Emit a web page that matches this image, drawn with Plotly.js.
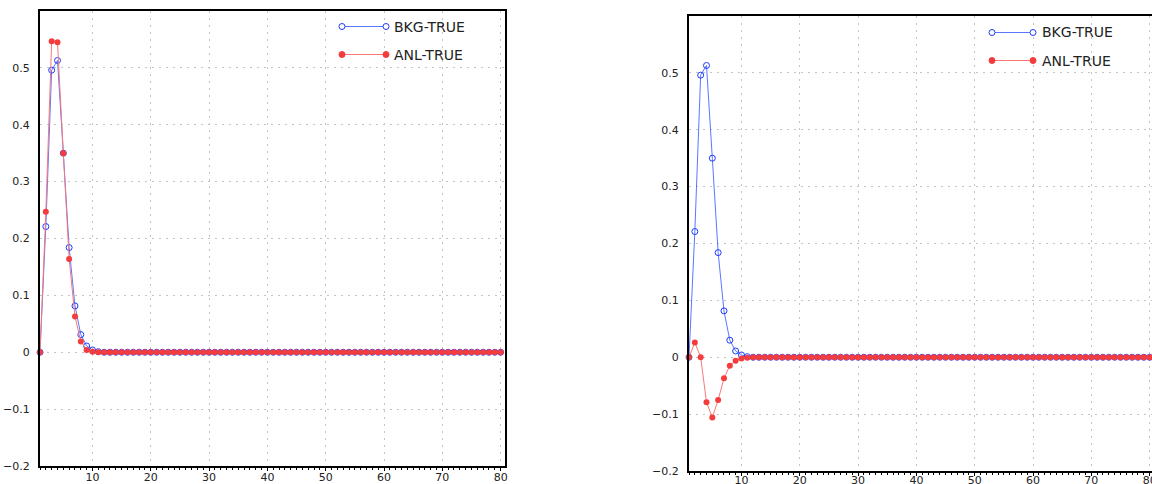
<!DOCTYPE html>
<html>
<head>
<meta charset="utf-8">
<script src="https://cdn.plot.ly/plotly-3.0.1.min.js"></script>
<style>
html,body{margin:0;padding:0;overflow:hidden;background:#fff;}
#chart{width:1160px;height:484px;}
</style>
</head>
<body>
<div id="chart"></div>
<script>
// x positions (step index)
const steps = [1,2,3,4,5,6,7,8,9,10,11,12,13,14,15,16,17,18,19,20,
  21,22,23,24,25,26,27,28,29,30,31,32,33,34,35,36,37,38,39,40,
  41,42,43,44,45,46,47,48,49,50,51,52,53,54,55,56,57,58,59,60,
  61,62,63,64,65,66,67,68,69,70,71,72,73,74,75,76,77,78,79,80];

// Left panel
const bkgTrueLeft = [0,0.221,0.496,0.513,0.350,0.184,0.0815,0.031,0.011,0.004,0.001,0,0,0,0,0,0,0,0,0,
  0,0,0,0,0,0,0,0,0,0,0,0,0,0,0,0,0,0,0,0,
  0,0,0,0,0,0,0,0,0,0,0,0,0,0,0,0,0,0,0,0,
  0,0,0,0,0,0,0,0,0,0,0,0,0,0,0,0,0,0,0,0];
const anlTrueLeft = [0,0.247,0.547,0.545,0.350,0.164,0.063,0.019,0.004,0.001,0,0,0,0,0,0,0,0,0,0,
  0,0,0,0,0,0,0,0,0,0,0,0,0,0,0,0,0,0,0,0,
  0,0,0,0,0,0,0,0,0,0,0,0,0,0,0,0,0,0,0,0,
  0,0,0,0,0,0,0,0,0,0,0,0,0,0,0,0,0,0,0,0];

// Right panel
const bkgTrueRight = [0,0.221,0.496,0.513,0.350,0.184,0.0815,0.030,0.011,0.004,0.001,0,0,0,0,0,0,0,0,0,
  0,0,0,0,0,0,0,0,0,0,0,0,0,0,0,0,0,0,0,0,
  0,0,0,0,0,0,0,0,0,0,0,0,0,0,0,0,0,0,0,0,
  0,0,0,0,0,0,0,0,0,0,0,0,0,0,0,0,0,0,0,0];
const anlTrueRight = [0,0.026,0,-0.079,-0.106,-0.075,-0.037,-0.015,-0.006,-0.002,-0.001,0,0,0,0,0,0,0,0,0,
  0,0,0,0,0,0,0,0,0,0,0,0,0,0,0,0,0,0,0,0,
  0,0,0,0,0,0,0,0,0,0,0,0,0,0,0,0,0,0,0,0,
  0,0,0,0,0,0,0,0,0,0,0,0,0,0,0,0,0,0,0,0];

const seriesNames = ['BKG-TRUE','ANL-TRUE'];
const xTicks = [10,20,30,40,50,60,70,80];
const yTicks = [-0.2,-0.1,0,0.1,0.2,0.3,0.4,0.5];

const W = 1160, H = 484;
const BLUE = '#1e3cff', BLUE_L = '#5a78ff';
const RED = '#f53c3c', RED_L = '#f87878';

function blueTrace(y, xa, ya){
  return {x: steps, y: y, xaxis: xa, yaxis: ya, type:'scatter', mode:'lines+markers',
    name: seriesNames[0], cliponaxis:false,
    line:{color:BLUE_L, width:1},
    marker:{symbol:'circle-open', size:6, color:BLUE, line:{width:1, color:BLUE}}};
}
function redTrace(y, xa, ya){
  return {x: steps, y: y, xaxis: xa, yaxis: ya, type:'scatter', mode:'lines+markers',
    name: seriesNames[1], cliponaxis:false,
    line:{color:RED_L, width:1},
    marker:{symbol:'circle', size:6, color:RED}};
}

const data = [
  blueTrace(bkgTrueLeft,'x','y'),
  redTrace(anlTrueLeft,'x','y'),
  blueTrace(bkgTrueRight,'x2','y2'),
  redTrace(anlTrueRight,'x2','y2')
];

const tickFont = {family:'DejaVu Sans, Arial, sans-serif', size:11, color:'#222'};
const GRID = '#c4c4c4';

function xAxis(domain, anchor, standoff){
  return {domain: domain, anchor: anchor, range:[1,80.75], tickvals:xTicks,
    ticks:'outside', ticklen:3, tickcolor:'#000', tickwidth:1, ticklabelstandoff:standoff,
    showgrid:true, gridcolor:GRID, griddash:'2px,5px', gridwidth:1,
    zeroline:false, showline:true, linecolor:'#000', linewidth:2, mirror:true,
    tickfont: tickFont,
    minor:{dtick:1, ticks:'outside', ticklen:2, tickcolor:'#000', showgrid:false}};
}
function yAxis(domain, anchor){
  return {domain: domain, anchor: anchor, range:[-0.2,0.6], tickvals:yTicks,
    ticks:'', ticklabelstandoff:6,
    showgrid:true, gridcolor:GRID, griddash:'2px,5px', gridwidth:1,
    zeroline:false, showline:true, linecolor:'#000', linewidth:2, mirror:true,
    tickfont: tickFont};
}

const shapes = [], annotations = [];
function legend(x0px, x1px, yBkg, yAnl, textX){
  const items = [[yBkg, BLUE, BLUE_L, true, seriesNames[0]], [yAnl, RED, RED_L, false, seriesNames[1]]];
  items.forEach(([ypx, c, cl, open, label]) => {
    const yp = 1 - ypx/H;
    shapes.push({type:'line', xref:'paper', yref:'paper', x0:x0px/W, x1:x1px/W, y0:yp, y1:yp,
      line:{color:cl, width:1}});
    [x0px, x1px].forEach(px => {
      shapes.push({type:'circle', xref:'paper', yref:'paper', xsizemode:'pixel', ysizemode:'pixel',
        xanchor:px/W, yanchor:yp, x0:-3, x1:3, y0:-3, y1:3,
        line:{color:c, width:1}, fillcolor: open ? '#ffffff' : c});
    });
    annotations.push({xref:'paper', yref:'paper', x:textX/W, y:yp, xanchor:'left', yanchor:'middle',
      text:label, showarrow:false, font:{family:'DejaVu Sans, Arial, sans-serif', size:14, color:'#222'}});
  });
}
legend(342, 386, 26.5, 54.5, 392);
legend(992, 1033, 32.5, 60.5, 1040);

const layout = {
  width: W, height: H,
  margin:{l:0, r:0, t:0, b:0},
  paper_bgcolor:'#fff', plot_bgcolor:'#fff',
  showlegend:false,
  xaxis: xAxis([40/W, 505/W], 'y', -3),
  yaxis: yAxis([(H-466)/H, (H-11)/H], 'x'),
  xaxis2: xAxis([689/W, 1154/W], 'y2', -5),
  yaxis2: yAxis([(H-471)/H, (H-16)/H], 'x2'),
  shapes: shapes,
  annotations: annotations
};

Plotly.newPlot('chart', data, layout, {displayModeBar:false, staticPlot:true});
</script>
</body>
</html>
